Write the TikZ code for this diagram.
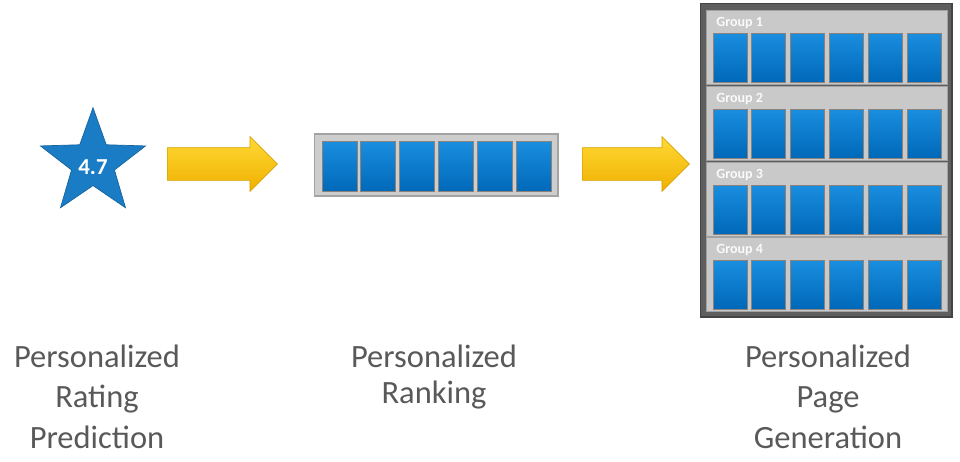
\documentclass[tikz,border=0pt]{standalone}
\usepackage{fontspec}
\setmainfont{Carlito}
\usetikzlibrary{shapes.geometric}
\usetikzlibrary{shapes.arrows}
\usetikzlibrary{positioning}
\definecolor{boxtop}{HTML}{1A8EDF}
\definecolor{boxbot}{HTML}{0068B8}
\definecolor{boxedge}{HTML}{8C8279}
\definecolor{barfill}{HTML}{CDCDCD}
\definecolor{baredge}{HTML}{A3A3A3}
\definecolor{pagefill}{HTML}{5E5E5E}
\definecolor{pageedge}{HTML}{444444}
\definecolor{grpfill}{HTML}{C9C9C9}
\definecolor{arrtop}{HTML}{FFD935}
\definecolor{arrbot}{HTML}{EFB000}
\definecolor{arredge}{HTML}{D8A200}
\definecolor{starblue}{HTML}{1B7CC6}
\definecolor{captext}{HTML}{595959}
\tikzset{
  itembox/.style={minimum width=0.7cm,minimum height=1.0cm,inner sep=0pt,
    draw=boxedge,line width=0.4pt,top color=boxtop,bottom color=boxbot},
  flowarrow/.style={single arrow,single arrow head extend=0.22cm,anchor=tail,
    inner xsep=0pt,inner ysep=0.32cm,draw=arredge,line width=0.4pt,
    top color=arrtop,bottom color=arrbot},
  caption/.style={align=center,inner sep=0pt,anchor=north,text=captext},
  grouplabel/.style={anchor=west,inner sep=0pt,text=white!90!grpfill,
    font=\fontsize{8}{9}\selectfont\bfseries}
}

\begin{document}
\begin{tikzpicture}[x=0.02cm,y=-0.02cm]
\useasboundingbox (0,0) rectangle (960,461);

% rating
\node (star) at (93,163) [star,star points=5,star point ratio=2.45,
  minimum size=2.21cm,inner sep=0pt,fill=starblue,draw=starblue!80!black,line width=0.4pt] {};
\node (rate) at (93,167) [text=white,font=\fontsize{13}{15}\selectfont\bfseries] {4.7};

\node (arr1) at (167,164) [flowarrow,minimum height=2.2cm] {};

% ranking
\node (bar) at (436,165) [minimum width=4.88cm,minimum height=1.24cm,inner sep=0pt,
  fill=barfill,draw=baredge,line width=0.6pt] {};
\foreach \i in {1,...,6}
  \node (b\i) at ({339.5+38.8*(\i-1)},166.5) [itembox] {};

\node (arr2) at (582,164) [flowarrow,minimum height=2.14cm] {};

% page
\node (page) at (826,160) [minimum width=5.04cm,minimum height=6.28cm,inner sep=0pt,
  fill=pagefill,draw=pageedge,line width=0.6pt] {};
\foreach \g/\top in {1/10,2/86,3/162,4/237} {
  \node (g\g) at (826.5,\top+37) [minimum width=4.82cm,minimum height=1.48cm,inner sep=0pt,
    fill=grpfill,draw=grpfill!80!black,line width=0.4pt] {};
  \node (gl\g) at (716,\top+13) [grouplabel] {Group \g};
  \foreach \i in {1,...,6}
    \node (g\g-\i) at ({730+38.8*(\i-1)},\top+47.5) [itembox,minimum width=0.68cm,minimum height=0.98cm] {};
}

% captions
\node (cap1) at (97,345) [caption,font=\fontsize{18.5}{22.8}\selectfont]
  {Personalized\\Rating\\Prediction};
\node (cap2) at (434,345) [caption,font=\fontsize{18.5}{20}\selectfont]
  {Personalized\\Ranking};
\node (cap3) at (828,345) [caption,font=\fontsize{18.5}{22.8}\selectfont]
  {Personalized\\Page\\Generation};
\end{tikzpicture}
\end{document}
